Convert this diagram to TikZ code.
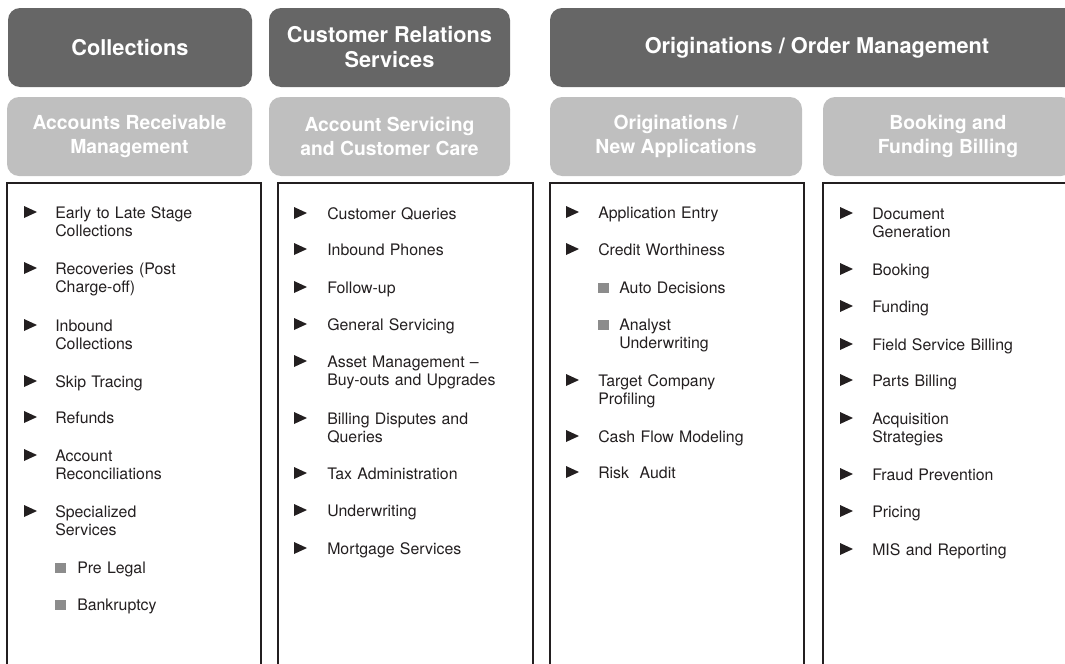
\documentclass[tikz,border=0pt]{standalone}
\usepackage{fontspec}
\setmainfont{TeX Gyre Heros}
\definecolor{darkhead}{RGB}{102,102,102}
\definecolor{lighthead}{RGB}{191,191,191}
\definecolor{txt}{RGB}{35,31,32}
\definecolor{sqgray}{RGB}{140,140,140}
\tikzset{
  head/.style={fill=darkhead,rounded corners=9pt,text=white,align=center,inner sep=0pt,
    font=\bfseries\fontsize{16.3}{18.75}\selectfont,minimum height=59.25pt},
  subhead/.style={fill=lighthead,rounded corners=9pt,text=white,align=center,inner sep=0pt,
    font=\bfseries\fontsize{14.5}{17.5}\selectfont,minimum height=59.25pt},
  listbox/.style={draw=txt,line width=1.7pt},
  item/.style={anchor=base west,inner sep=0pt,text width=170pt,align=left,text=txt,
    font=\fontsize{11.9}{14}\selectfont}
}
\newcommand\tribul[2]{\fill[txt] (#1,#2) -- ++(0,-12) -- ++(13,6) -- cycle;}
\newcommand\sqbul[2]{\fill[sqgray] (#1,#2) rectangle ++(10.5,-10.5);}
\begin{document}
\begin{tikzpicture}[x=0.75pt,y=-0.75pt]
\clip (0,0) rectangle (1065,664);
% top row
\node[head,minimum width=183pt] (coll) at (130,47.5) {Collections};
\node[head,minimum width=180.75pt] (crs) at (389.5,47.5) {Customer Relations\\Services};
\node[head,minimum width=400.5pt] (orig) at (817,47.5) {Originations / Order Management};
% second row
\node[subhead,minimum width=183.75pt] (arm) at (129.5,136.5) {Accounts Receivable\\Management};
\node[subhead,minimum width=180.75pt] (ascc) at (389.5,136.5) {Account Servicing\\and Customer Care};
\node[subhead,minimum width=189pt] (ona) at (676,136.5) {Originations /\\New Applications};
\node[subhead,minimum width=187.5pt] (bfb) at (948,136.5) {Booking and\\Funding Billing};
% list boxes
\draw[listbox] (7,183) rectangle (261,700);
\draw[listbox] (278,183) rectangle (533,700);
\draw[listbox] (550,183) rectangle (804,700);
\draw[listbox] (823,183) rectangle (1077,700);
% column 1
\foreach \b/\t [count=\i] in {218/{Early to Late Stage\\Collections},274/{Recoveries (Post\\Charge-off)},
  331/{Inbound\\Collections},387/Skip Tracing,423/Refunds,461/{Account\\Reconciliations},
  517/{Specialized\\Services}}{
  \tribul{24}{\b}
  \node[item] (arm-\i) at (55,\b) {\t};
}
\foreach \b/\t [count=\i] in {573/Pre Legal,610/Bankruptcy}{
  \sqbul{55}{\b}
  \node[item] (arm-sub-\i) at (77,\b) {\t};
}
% column 2
\foreach \b/\t [count=\i] in {219/Customer Queries,255/Inbound Phones,293/Follow-up,330/General Servicing,
  367/{Asset Management –\\Buy-outs and Upgrades},424/{Billing Disputes and\\Queries},
  479/Tax Administration,516/Underwriting,554/Mortgage Services}{
  \tribul{294}{\b}
  \node[item] (ascc-\i) at (327,\b) {\t};
}
% column 3
\foreach \b/\t [count=\i] in {218/Application Entry,255/Credit Worthiness,386/{Target Company\\Profiling},
  442/Cash Flow Modeling,478/Risk\ \ Audit}{
  \tribul{566}{\b}
  \node[item] (ona-\i) at (598,\b) {\t};
}
\foreach \b/\t [count=\i] in {293/Auto Decisions,330/{Analyst\\Underwriting}}{
  \sqbul{598}{\b}
  \node[item] (ona-sub-\i) at (619,\b) {\t};
}
% column 4
\foreach \b/\t [count=\i] in {219/{Document\\Generation},275/Booking,312/Funding,350/Field Service Billing,
  386/Parts Billing,424/{Acquisition\\Strategies},480/Fraud Prevention,517/Pricing,555/MIS and Reporting}{
  \tribul{840}{\b}
  \node[item] (bfb-\i) at (872,\b) {\t};
}
\end{tikzpicture}
\end{document}
